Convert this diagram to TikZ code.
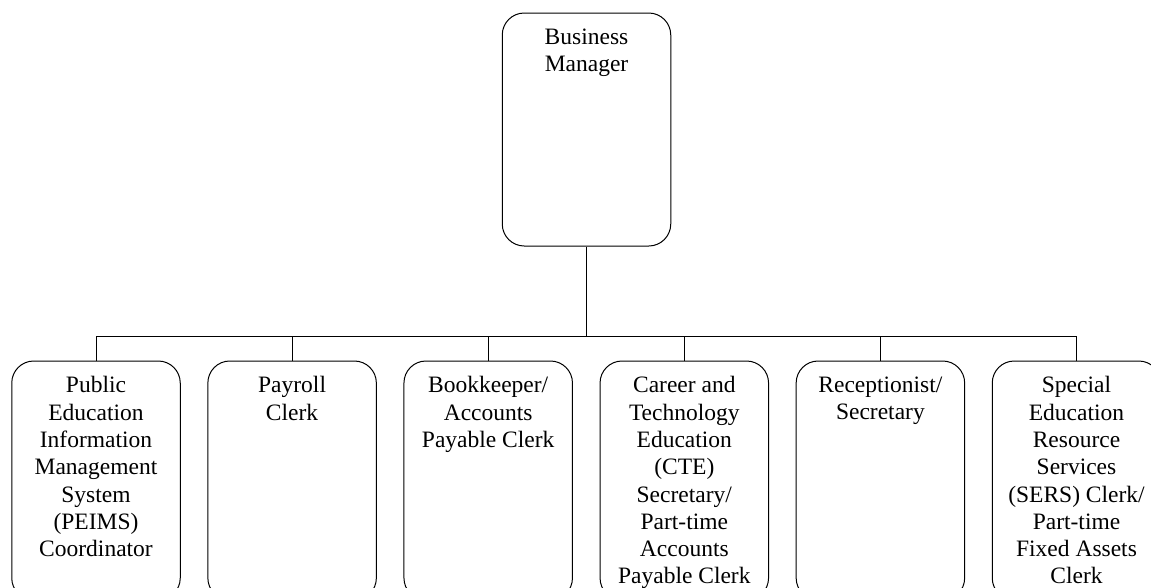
\documentclass[tikz,border=0pt]{standalone}
\usepackage{fontspec}
\setmainfont{Liberation Serif}
\begin{document}
\begin{tikzpicture}[x=1pt,y=-1pt,
  line width=1pt,
  orgbox/.style={draw, rounded corners=22pt, inner sep=0pt,
    minimum width=168.5pt},
  orglabel/.style={anchor=north, inner sep=0pt, align=center,
    font=\fontsize{23.5pt}{27.3pt}\selectfont,
    execute at begin node=\rule{0pt}{17pt}}]
  \useasboundingbox (0,0) rectangle (1151,587);
  \begin{scope}
    \clip (0,0) rectangle (1151,587);
    % head of the office
    \node[orgbox, minimum height=233pt] (bm) at (586.5,129.5) {};
    \node[orglabel] (bmt) at (586.5,28) {Business\\Manager};
    % staff row
    \foreach \i/\txt in {
      0/{Public\\Education\\Information\\Management\\System\\(PEIMS)\\Coordinator},
      1/{Payroll\\Clerk},
      2/{Bookkeeper/\\Accounts\\Payable Clerk},
      3/{Career and\\Technology\\Education\\(CTE)\\Secretary/\\Part-time\\Accounts\\Payable Clerk},
      4/{Receptionist/\\Secretary},
      5/{Special\\Education\\Resource\\Services\\(SERS) Clerk/\\Part-time\\Fixed Assets\\Clerk}}{
      \node[orgbox, minimum height=239pt] (s\i) at ({96+196.1*\i},480.5) {};
      \node[orglabel] (s\i t) at ({96+196.1*\i},376) {\txt};
    }
    % connectors
    \coordinate (bus) at (586.5,336.5);
    \draw (bm.south) -- (bus);
    \foreach \i in {0,...,5}{
      \draw (s\i.north) |- (bus);
    }
  \end{scope}
\end{tikzpicture}
\end{document}
